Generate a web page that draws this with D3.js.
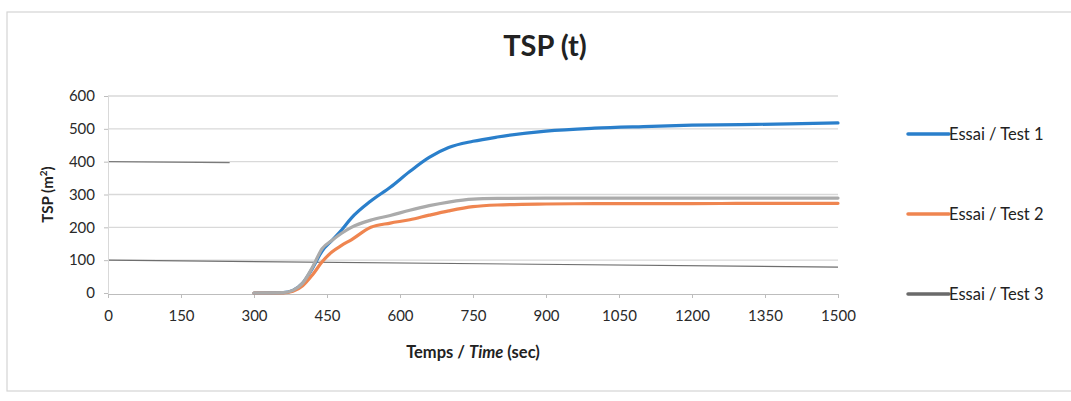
<!DOCTYPE html>
<html><head><meta charset="utf-8">
<script src="https://cdn.jsdelivr.net/npm/d3@7"></script>
<style>
html,body{margin:0;padding:0;background:#fff;}
svg{display:block;font-family:Lato,"Open Sans",sans-serif;}
</style></head>
<body><svg id="c" width="1071" height="401"></svg>
<script>
const times   = [300, 360, 380, 400, 420, 440, 460, 480, 500, 540, 580, 620, 660, 700, 750, 800, 900, 1000, 1100, 1200, 1300, 1400, 1500];
const test1   = [0,   1,   8,   30,  75,  128, 160, 192, 228, 280, 322, 370, 413, 443, 462, 475, 493, 502,  507,  511,  513,  515,  518];
const test2   = [0,   0,   5,   22,  55,  95,  125, 145, 162, 200, 213, 223, 237, 250, 263, 268, 271, 272,  272,  272,  273,  273,  273];
const test3   = [0,   1,   8,   30,  78,  135, 160, 182, 200, 222, 236, 252, 266, 277, 286, 288, 289, 289,  289,  289,  289,  289,  289];
const seriesNames = ["Essai / Test 1", "Essai / Test 2", "Essai / Test 3"];
const seriesColors = ["#2a7fcb", "#ef8550", "#ababab"];
const xTicks = [0, 150, 300, 450, 600, 750, 900, 1050, 1200, 1350, 1500];
const yTicks = [0, 100, 200, 300, 400, 500, 600];

const svg = d3.select("#c");
const x = d3.scaleLinear().domain([0, 1500]).range([108, 838]);
const y = d3.scaleLinear().domain([0, 600]).range([293, 96]);

// outer frame
svg.append("rect").attr("x", 7).attr("y", 12).attr("width", 1080).attr("height", 379)
  .attr("fill", "none").attr("stroke", "#d4d4d4").attr("stroke-width", 1.2);

// gridlines
svg.append("g").selectAll("line").data(yTicks.filter(d => d > 0)).join("line")
  .attr("x1", x(0)).attr("x2", x(1500)).attr("y1", d => y(d)).attr("y2", d => y(d))
  .attr("stroke", "#d9d9d9").attr("stroke-width", 1.3);

// scan artefact lines (darker marks on the scanned page)
svg.append("line").attr("x1", x(0)).attr("x2", x(1500)).attr("y1", y(100)).attr("y2", y(100) + 7)
  .attr("stroke", "#6e6e6e").attr("stroke-width", 1.2);
svg.append("line").attr("x1", x(0)).attr("x2", x(250)).attr("y1", y(400)).attr("y2", y(400) + 1)
  .attr("stroke", "#7a7a7a").attr("stroke-width", 1.2);

// axes
const xAxis = d3.axisBottom(x).tickValues(xTicks).tickSize(4).tickFormat(d3.format("d"));
const gx = svg.append("g").attr("transform", `translate(0,${y(0) + 1})`).call(xAxis);
gx.select(".domain").attr("stroke", "#bdbdbd");
gx.selectAll(".tick line").attr("stroke", "#bdbdbd");
gx.selectAll(".tick text").attr("dy", "1.35em").attr("font-size", 15).attr("fill", "#2a2a2a").attr("font-family", "Lato,sans-serif");

const yAxis = d3.axisLeft(y).tickValues(yTicks).tickSize(4).tickFormat(d3.format("d"));
const gy = svg.append("g").attr("transform", `translate(${x(0)},0)`).call(yAxis);
gy.select(".domain").attr("stroke", "#d9d9d9");
gy.selectAll(".tick line").attr("stroke", "#bdbdbd");
gy.selectAll(".tick text").attr("dx", "-0.4em").attr("font-size", 15).attr("fill", "#2a2a2a").attr("font-family", "Lato,sans-serif");

// titles
svg.append("text").attr("x", 545).attr("y", 56).attr("text-anchor", "middle")
  .attr("font-size", 29).attr("font-weight", "bold").attr("fill", "#222").text("TSP (t)");

const yt = svg.append("text").attr("transform", `translate(53,${y(300)}) rotate(-90)`)
  .attr("text-anchor", "middle").attr("font-size", 15).attr("font-weight", "bold").attr("fill", "#222");
yt.append("tspan").text("TSP (m");
yt.append("tspan").attr("font-size", 10).attr("dy", -6).text("2");
yt.append("tspan").attr("dy", 6).text(")");

const xt = svg.append("text").attr("x", 473).attr("y", 358).attr("text-anchor", "middle")
  .attr("font-size", 16.5).attr("font-weight", "bold").attr("fill", "#222");
xt.append("tspan").text("Temps / ");
xt.append("tspan").attr("font-style", "italic").text("Time");
xt.append("tspan").text(" (sec)");

// series
const allSeries = [test1, test2, test3];
const line = d3.line().x(d => x(d[0])).y(d => y(d[1])).curve(d3.curveMonotoneX);
allSeries.forEach((vals, i) => {
  svg.append("path").datum(times.map((t, j) => [t, vals[j]]))
    .attr("fill", "none").attr("stroke", seriesColors[i]).attr("stroke-width", 3.2)
    .attr("stroke-linejoin", "round").attr("stroke-linecap", "round").attr("d", line);
});

// legend
const leg = svg.append("g").selectAll("g").data(seriesNames).join("g")
  .attr("transform", (d, i) => `translate(908,${134 + i * 80})`);
leg.append("line").attr("x1", 0).attr("x2", 41).attr("y1", 0).attr("y2", 0)
  .attr("stroke", (d, i) => i === 2 ? "#6a6a6a" : seriesColors[i]).attr("stroke-width", 3.5).attr("stroke-linecap", "round");
leg.append("text").attr("x", 41).attr("y", 6).attr("font-size", 16.5).attr("fill", "#222")
  .attr("font-family", "Lato,sans-serif").text(d => d);
</script></body></html>
